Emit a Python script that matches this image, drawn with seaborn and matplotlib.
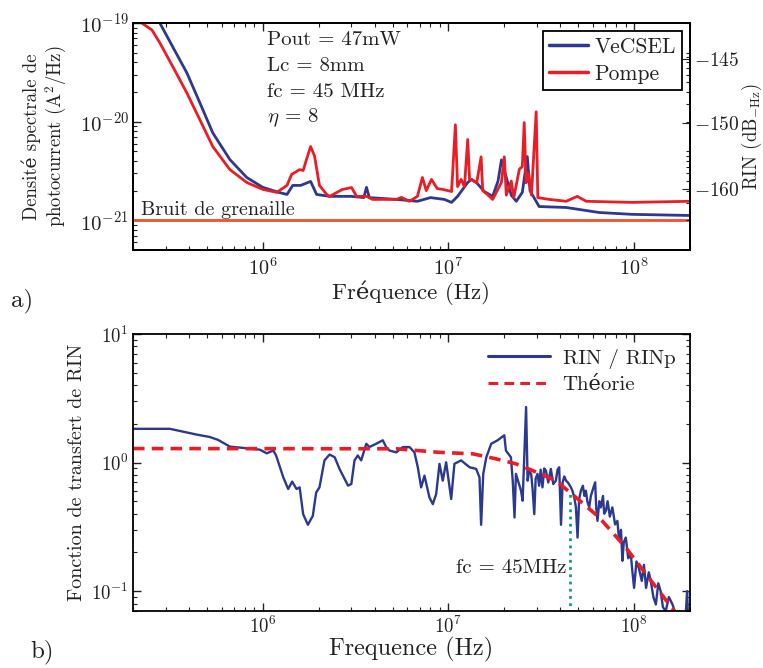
# Noise spectra (a) and RIN transfer function (b) of the VeCSEL
import numpy as np
import pandas as pd
import matplotlib
matplotlib.use('Agg')
import matplotlib.pyplot as plt
import seaborn as sns
from matplotlib.ticker import FixedLocator, LogLocator, NullFormatter

# ---------------- a) photocurrent spectral density [A^2/Hz]
f_vecsel = [2.5e5, 2.79e5, 3.28e5, 3.90e5, 4.58e5, 5.38e5, 6.65e5, 8.2e5, 1.0e6, 1.22e6,
            1.35e6, 1.45e6, 1.6e6, 1.81e6, 1.95e6, 2.29e6, 3.0e6, 3.5e6, 3.62e6, 3.75e6,
            5.25e6, 6.81e6, 8.0e6, 9.5e6, 1.04e7, 1.12e7, 1.27e7, 1.33e7, 1.42e7, 1.56e7,
            1.73e7, 1.85e7, 1.93e7, 2.02e7, 2.18e7, 2.32e7, 2.50e7, 2.66e7, 2.75e7, 3.08e7,
            4.31e7, 6.49e7, 9.76e7, 2.0e8]
s_vecsel = [1.3e-19, 1.0e-19, 5.7e-20, 3.13e-20, 1.56e-20, 7.7e-21, 4.13e-21, 2.72e-21, 2.16e-21, 1.92e-21,
            1.83e-21, 2.26e-21, 2.26e-21, 2.48e-21, 1.83e-21, 1.75e-21, 1.75e-21, 1.7e-21, 2.16e-21, 1.7e-21,
            1.63e-21, 1.56e-21, 1.7e-21, 1.63e-21, 1.52e-21, 1.75e-21, 2.42e-21, 2.6e-21, 2.4e-21, 1.96e-21,
            1.75e-21, 2.5e-21, 4.1e-21, 3.0e-21, 1.8e-21, 1.56e-21, 1.92e-21, 4.43e-21, 2.0e-21, 1.38e-21,
            1.35e-21, 1.2e-21, 1.15e-21, 1.12e-21]

f_pompe = [2.0e5, 2.23e5, 2.53e5, 2.79e5, 3.28e5, 3.90e5, 4.58e5, 5.38e5, 6.65e5, 8.2e5,
           1.0e6, 1.19e6, 1.35e6, 1.43e6, 1.58e6, 1.65e6, 1.72e6, 1.81e6, 1.90e6, 2.02e6,
           2.21e6, 2.29e6, 2.69e6, 3.01e6, 3.20e6, 3.62e6, 3.90e6, 5.25e6, 5.58e6, 6.17e6,
           6.81e6, 7.24e6, 7.6e6, 8.1e6, 8.7e6, 9.3e6, 1.04e7, 1.09e7, 1.12e7, 1.17e7,
           1.22e7, 1.27e7, 1.30e7, 1.33e7, 1.42e7, 1.50e7, 1.53e7, 1.62e7, 1.73e7, 1.93e7,
           2.0e7, 2.05e7, 2.18e7, 2.25e7, 2.41e7, 2.50e7, 2.56e7, 2.62e7, 2.70e7, 2.80e7,
           2.97e7, 3.03e7, 3.49e7, 4.31e7, 4.94e7, 5.52e7, 9.76e7, 2.0e8]
s_pompe = [1.3e-19, 1.0e-19, 8.5e-20, 6.3e-20, 3.6e-20, 1.96e-20, 1.05e-20, 5.6e-21, 3.27e-21, 2.42e-21,
           2.06e-21, 1.92e-21, 2.26e-21, 2.92e-21, 3.27e-21, 3.2e-21, 4.13e-21, 5.6e-21, 4.5e-21, 2.26e-21,
           1.83e-21, 1.75e-21, 2.06e-21, 2.15e-21, 1.75e-21, 1.75e-21, 1.63e-21, 1.63e-21, 1.71e-21, 1.56e-21,
           1.75e-21, 2.72e-21, 2.0e-21, 2.6e-21, 2.1e-21, 2.06e-21, 1.96e-21, 9.3e-21, 2.2e-21, 2.6e-21,
           2.2e-21, 6.6e-21, 2.6e-21, 2.6e-21, 2.4e-21, 4.4e-21, 2.0e-21, 1.83e-21, 1.63e-21, 2.42e-21,
           4.4e-21, 1.8e-21, 2.5e-21, 1.7e-21, 3.3e-21, 3.5e-21, 9.8e-21, 2.4e-21, 3.0e-21, 1.8e-21,
           1.26e-20, 1.7e-21, 1.63e-21, 1.56e-21, 1.75e-21, 1.56e-21, 1.52e-21, 1.56e-21]

f_shot = [2.0e5, 2.0e8]
s_shot = [1.0e-21, 1.0e-21]

# RIN scale on the right (positions in A^2/Hz)
rin_ticks = [4.33e-20, 9.8e-21, 2.06e-21]
rin_labels = ['$-145$', '$-150$', '$-160$']

# ---------------- b) RIN transfer function
f_ratio = [2.0e5, 3.16e5, 4.41e5, 5.19e5, 5.75e5, 6.65e5, 7.84e5, 9.64e5, 1.05e6, 1.14e6,
           1.18e6, 1.29e6, 1.37e6, 1.44e6, 1.52e6, 1.58e6, 1.65e6, 1.75e6, 1.86e6, 1.94e6,
           2.02e6, 2.15e6, 2.29e6, 2.44e6, 2.59e6, 2.88e6, 3.00e6, 3.12e6, 3.25e6, 3.39e6,
           3.61e6, 3.76e6, 4.08e6, 4.43e6, 4.62e6, 4.82e6, 5.24e6, 5.68e6, 6.17e6, 6.56e6,
           6.84e6, 7.13e6, 7.43e6, 7.90e6, 8.24e6, 8.59e6, 8.95e6, 9.32e6, 9.72e6, 1.035e7,
           1.077e7, 1.17e7, 1.30e7, 1.41e7, 1.47e7, 1.50e7, 1.54e7, 1.60e7, 1.70e7, 1.84e7,
           2.0e7, 2.04e7, 2.17e7, 2.22e7, 2.27e7, 2.31e7, 2.46e7, 2.51e7, 2.62e7, 2.67e7,
           2.72e7, 2.79e7, 2.84e7, 2.90e7, 2.95e7, 3.02e7, 3.08e7, 3.14e7, 3.21e7, 3.28e7,
           3.35e7, 3.45e7, 3.56e7, 3.67e7, 3.79e7, 3.87e7, 3.95e7, 4.04e7, 4.12e7, 4.21e7,
           4.30e7, 4.40e7, 4.57e7, 4.66e7, 4.76e7, 4.86e7, 4.96e7, 5.06e7, 5.17e7, 5.30e7,
           5.40e7, 5.50e7, 5.60e7, 5.73e7, 5.85e7, 6.00e7, 6.17e7, 6.25e7, 6.35e7, 6.50e7,
           6.62e7, 6.80e7, 6.90e7, 7.05e7, 7.20e7, 7.40e7, 7.64e7, 7.90e7, 8.13e7, 8.30e7,
           8.50e7, 8.65e7, 8.80e7, 9.02e7, 9.30e7, 9.60e7, 9.80e7, 1.0e8, 1.03e8, 1.06e8,
           1.10e8, 1.13e8, 1.16e8, 1.20e8, 1.23e8, 1.27e8, 1.31e8, 1.35e8, 1.39e8, 1.43e8,
           1.48e8, 1.54e8, 1.61e8, 1.68e8, 1.75e8, 1.83e8, 1.89e8, 1.93e8, 1.95e8]
h_ratio = [1.83, 1.83, 1.65, 1.58, 1.50, 1.33, 1.30, 1.26, 1.18, 1.24,
           1.135, 0.767, 0.623, 0.711, 0.623, 0.641, 0.397, 0.328, 0.385, 0.586,
           0.641, 1.04, 1.155, 1.10, 0.893, 0.661, 0.682, 1.04, 1.135, 1.04,
           1.40, 1.32, 1.40, 1.49, 1.32, 1.24, 1.20, 1.32, 1.32, 1.20,
           0.919, 0.641, 0.791, 0.536, 0.475, 0.569, 0.977, 0.723, 1.005, 0.520,
           0.977, 1.04, 0.919, 0.893, 0.767, 0.328, 0.817, 1.10, 1.40, 1.49,
           1.63, 1.24, 1.10, 0.723, 0.374, 0.817, 0.604, 0.505, 2.70, 0.723,
           0.85, 0.817, 0.62, 0.397, 0.75, 0.817, 0.66, 0.88, 0.641, 0.90,
           0.866, 0.70, 0.893, 0.68, 0.723, 0.88, 0.919, 0.328, 0.70, 0.78,
           0.723, 0.70, 0.641, 0.60, 0.536, 0.45, 0.261, 0.52, 0.604, 0.66,
           0.55, 0.604, 0.50, 0.448, 0.55, 0.62, 0.702, 0.45, 0.352, 0.50,
           0.448, 0.55, 0.40, 0.422, 0.50, 0.38, 0.448, 0.33, 0.352, 0.25,
           0.30, 0.172, 0.24, 0.261, 0.18, 0.194, 0.14, 0.106, 0.17, 0.152,
           0.12, 0.16, 0.106, 0.14, 0.120, 0.09, 0.0787, 0.115, 0.100, 0.075,
           0.0698, 0.09, 0.0787, 0.065, 0.0698, 0.06, 0.06, 0.100, 0.065]

f_theo = [2.0e5, 5.24e6, 8.96e6, 1.35e7, 1.80e7, 2.31e7, 2.84e7, 3.79e7, 4.86e7, 6.49e7,
          9.02e7, 1.20e8, 1.60e8, 2.0e8]
h_theo = [1.285, 1.28, 1.20, 1.17, 1.07, 0.977, 0.866, 0.723, 0.536, 0.374,
          0.218, 0.127, 0.074, 0.05]

fc = 4.5e7
f_fc = [fc, fc]
h_fc = [0.06, 0.60]

blue = '#2B3990'
red = '#EC1C24'
shot_col = '#F0502E'
green = '#0BA36B'
txt = '#222222'

sns.set_style('ticks')
plt.rcParams['font.family'] = ['cmr10', 'DejaVu Serif']
plt.rcParams['mathtext.fontset'] = 'cm'
plt.rcParams['axes.formatter.use_mathtext'] = True
plt.rcParams['axes.unicode_minus'] = False
plt.rcParams['xtick.direction'] = 'in'
plt.rcParams['ytick.direction'] = 'in'
plt.rcParams['xtick.color'] = txt
plt.rcParams['ytick.color'] = txt
plt.rcParams['text.color'] = txt
plt.rcParams['axes.labelcolor'] = txt

fig = plt.figure(figsize=(7.63, 6.68), dpi=100)
ax1 = fig.add_axes([0.1743, 0.6257, 0.730, 0.3398])
ax2 = fig.add_axes([0.1743, 0.0853, 0.730, 0.4147])

# ---- panel a
ax1.set_xscale('log')
ax1.set_yscale('log')
sns.lineplot(x=f_vecsel, y=s_vecsel, ax=ax1, color=blue, lw=2.0, label='VeCSEL',
             estimator=None, sort=False)
sns.lineplot(x=f_pompe, y=s_pompe, ax=ax1, color=red, lw=2.0, label='Pompe',
             estimator=None, sort=False)
sns.lineplot(x=f_shot, y=s_shot, ax=ax1, color=shot_col, lw=2.0, estimator=None)
ax1.set_xlim(2e5, 2e8)
ax1.set_ylim(5e-22, 1e-19)
ax1.set_xlabel('Fréquence (Hz)', fontsize=16.5, labelpad=1)
ax1.set_ylabel('Densité spectrale de\nphotocurrent (A$^2$/Hz)', fontsize=13.5, linespacing=1.15)
ax1.yaxis.set_label_coords(-0.115, 0.5)
ax1.tick_params(axis='x', which='both', top=True, labelsize=14.5, pad=5)
ax1.tick_params(axis='y', which='both', labelsize=15, pad=3)
ax1.tick_params(which='major', length=6, width=1)
ax1.tick_params(which='minor', length=3, width=0.8)
ax1.yaxis.set_minor_locator(LogLocator(base=10, subs=np.arange(2, 10)))
ax1.yaxis.set_minor_formatter(NullFormatter())
ax1.xaxis.set_minor_formatter(NullFormatter())

ax1.text(0.0144, 0.176, 'Bruit de grenaille', transform=ax1.transAxes, fontsize=14.5,
         va='center', ha='left')
ax1.text(0.2406, 0.925, 'Pout = 47mW', transform=ax1.transAxes, fontsize=15, va='center')
ax1.text(0.2406, 0.811, 'Lc = 8mm', transform=ax1.transAxes, fontsize=15, va='center')
ax1.text(0.2406, 0.696, 'fc = 45 MHz', transform=ax1.transAxes, fontsize=15, va='center')
ax1.text(0.2406, 0.581, r'$\eta$ = 8', transform=ax1.transAxes, fontsize=15, va='center')

leg1 = ax1.legend(loc='upper right', fontsize=15.5, frameon=True, fancybox=False,
                  edgecolor='black', framealpha=1, handlelength=1.8, handletextpad=0.3,
                  borderpad=0.3, labelspacing=0.35, borderaxespad=0.35)
leg1.get_frame().set_linewidth(1.3)
for line in leg1.get_lines():
    line.set_linewidth(2.5)

ax1r = ax1.twinx()
ax1r.set_yscale('log')
ax1r.set_ylim(ax1.get_ylim())
ax1r.yaxis.set_major_locator(FixedLocator(rin_ticks))
ax1r.yaxis.set_major_formatter(plt.FixedFormatter(rin_labels))
ax1r.yaxis.set_minor_locator(LogLocator(base=10, subs=np.arange(1, 10) * 0.5))
ax1r.yaxis.set_minor_formatter(NullFormatter())
ax1r.tick_params(axis='y', which='major', length=6, labelsize=14, pad=3)
ax1r.tick_params(axis='y', which='minor', length=3, width=0.8)
ax1r.set_ylabel(r'RIN (dB$_{-\mathrm{Hz}}$)', fontsize=13.5, labelpad=0)

# ---- panel b
ax2.set_xscale('log')
ax2.set_yscale('log')
sns.lineplot(x=f_ratio, y=h_ratio, ax=ax2, color=blue, lw=1.7, label='RIN / RINp',
             estimator=None, sort=False)
sns.lineplot(x=f_theo, y=h_theo, ax=ax2, color=red, lw=2.6, label='Théorie',
             estimator=None, sort=False, dashes=False, linestyle=(0, (3.2, 2.0)))
sns.lineplot(x=f_fc, y=h_fc, ax=ax2, color=green, lw=2.0, estimator=None, sort=False,
             linestyle=(0, (1.0, 1.6)))
ax2.set_xlim(2e5, 2e8)
ax2.set_ylim(0.07, 10)
ax2.set_xlabel('Frequence (Hz)', fontsize=17.5, labelpad=0)
ax2.set_ylabel('Fonction de transfert de RIN', fontsize=14.5)
ax2.yaxis.set_label_coords(-0.085, 0.5)
ax2.tick_params(axis='both', which='both', top=True, right=True, labelsize=13.5)
ax2.tick_params(which='major', length=6, width=1)
ax2.tick_params(which='minor', length=3, width=0.8)
ax2.yaxis.set_minor_formatter(NullFormatter())
ax2.xaxis.set_minor_formatter(NullFormatter())
ax2.text(fc * 0.96, 0.15, 'fc = 45MHz', fontsize=15, ha='right', va='center')

leg2 = ax2.legend(loc='upper right', fontsize=15, frameon=False, handlelength=3.0,
                  handletextpad=0.6, labelspacing=0.35, borderaxespad=0.3)
for line in leg2.get_lines():
    line.set_linewidth(2.2)

for ax in (ax1, ax2, ax1r):
    for sp in ax.spines.values():
        sp.set_linewidth(1.3)
        sp.set_color('black')

fig.text(0.015, 1 - 301 / 668, 'a)', fontsize=18, va='center', ha='left')
fig.text(0.040, 1 - 652 / 668, 'b)', fontsize=18, va='center', ha='left')

fig.savefig('out.png', dpi=100)
